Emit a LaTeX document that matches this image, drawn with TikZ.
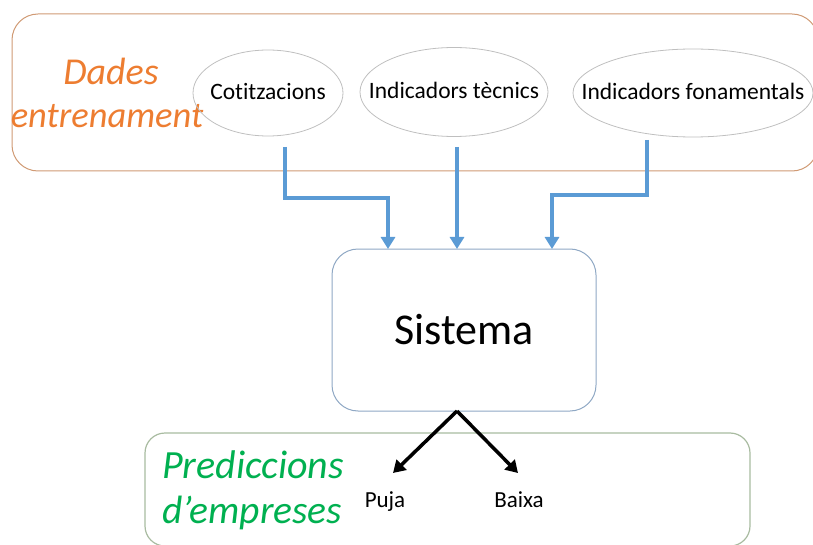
\documentclass[tikz,border=0pt]{standalone}
\usepackage{fontspec}
\setmainfont{Carlito}[Ligatures=NoCommon]
\usetikzlibrary{arrows.meta,shapes.geometric,calc}
\definecolor{dorange}{HTML}{ED7D31}
\definecolor{dframe}{HTML}{D09A74}
\definecolor{dgreen}{HTML}{00B050}
\definecolor{gframe}{HTML}{A8BBA0}
\definecolor{flowblue}{HTML}{5B9BD5}
\definecolor{sysframe}{HTML}{8FA8C4}
\definecolor{ellframe}{HTML}{BFBFBF}
\tikzset{
  srcell/.style={ellipse,draw=ellframe,line width=0.8pt,inner sep=0pt},
  srctext/.style={text height=15pt,text depth=2pt,inner sep=0pt,font=\fontsize{23.5}{28}\selectfont},
  feed/.style={flowblue,line width=4pt,-{Triangle[width=14pt,length=12pt]}},
  outarrow/.style={black,line width=3.5pt,-{Triangle[width=14pt,length=12pt]}},
  grouplabel/.style={anchor=base,inner sep=0pt},
  smalllabel/.style={anchor=base,inner sep=0pt,font=\fontsize{23}{27}\selectfont}
}
\begin{document}
\begin{tikzpicture}[x=1pt,y=-1pt]
\useasboundingbox (0,0) rectangle (813,545);
% input data frame
\draw[dframe,line width=1pt,rounded corners=26pt] (12,14) rectangle (818,171);
\node[grouplabel,text=dorange,font=\fontsize{38}{44}\selectfont\itshape] (dades) at (111,85) {Dades};
\node[grouplabel,text=dorange,font=\fontsize{36.5}{44}\selectfont\itshape] (entren) at (107,128) {entrenament};
% data sources
\node[srcell,minimum width=150pt,minimum height=86pt,label={[srctext]center:Cotitzacions}] (cot) at (268,93) {};
\node[srcell,minimum width=188pt,minimum height=89pt,label={[srctext]center:Indicadors tècnics}] (tec) at (454,92) {};
\node[srcell,minimum width=240pt,minimum height=88pt,label={[srctext]center:Indicadors fonamentals}] (fon) at (693,93) {};
% the system
\node[draw=sysframe,line width=1pt,rounded corners=26pt,minimum width=264pt,minimum height=162pt,
      text height=28pt,text depth=0pt,font=\fontsize{44}{52}\selectfont] (sis) at (464,330) {Sistema};
% predictions frame
\draw[gframe,line width=1.2pt,rounded corners=20pt] (145,433) rectangle (750,546);
\node[grouplabel,text=dgreen,font=\fontsize{40}{46}\selectfont\itshape] (pred) at (253,478) {Prediccions};
\node[grouplabel,text=dgreen,font=\fontsize{39.5}{46}\selectfont\itshape] (demp) at (252,523) {d’empreses};
\node[smalllabel] (puja) at (385,507) {Puja};
\node[smalllabel] (baixa) at (519,507) {Baixa};
% feeds into the system
\coordinate (c1) at (285,147);
\coordinate (c2) at (457,147);
\coordinate (c3) at (647,140);
\draw[feed] (c1) |- (388,198) -- (388,249);
\draw[feed] (c2) -- (457,249);
\draw[feed] (c3) |- (552,195) -- (552,249);
% outputs
\coordinate (top) at (457,411);
\coordinate (pt) at (393,473);
\coordinate (bt) at (518,473);
\draw[outarrow] (top) -- (pt);
\draw[outarrow] (top) -- (bt);
\end{tikzpicture}
\end{document}
